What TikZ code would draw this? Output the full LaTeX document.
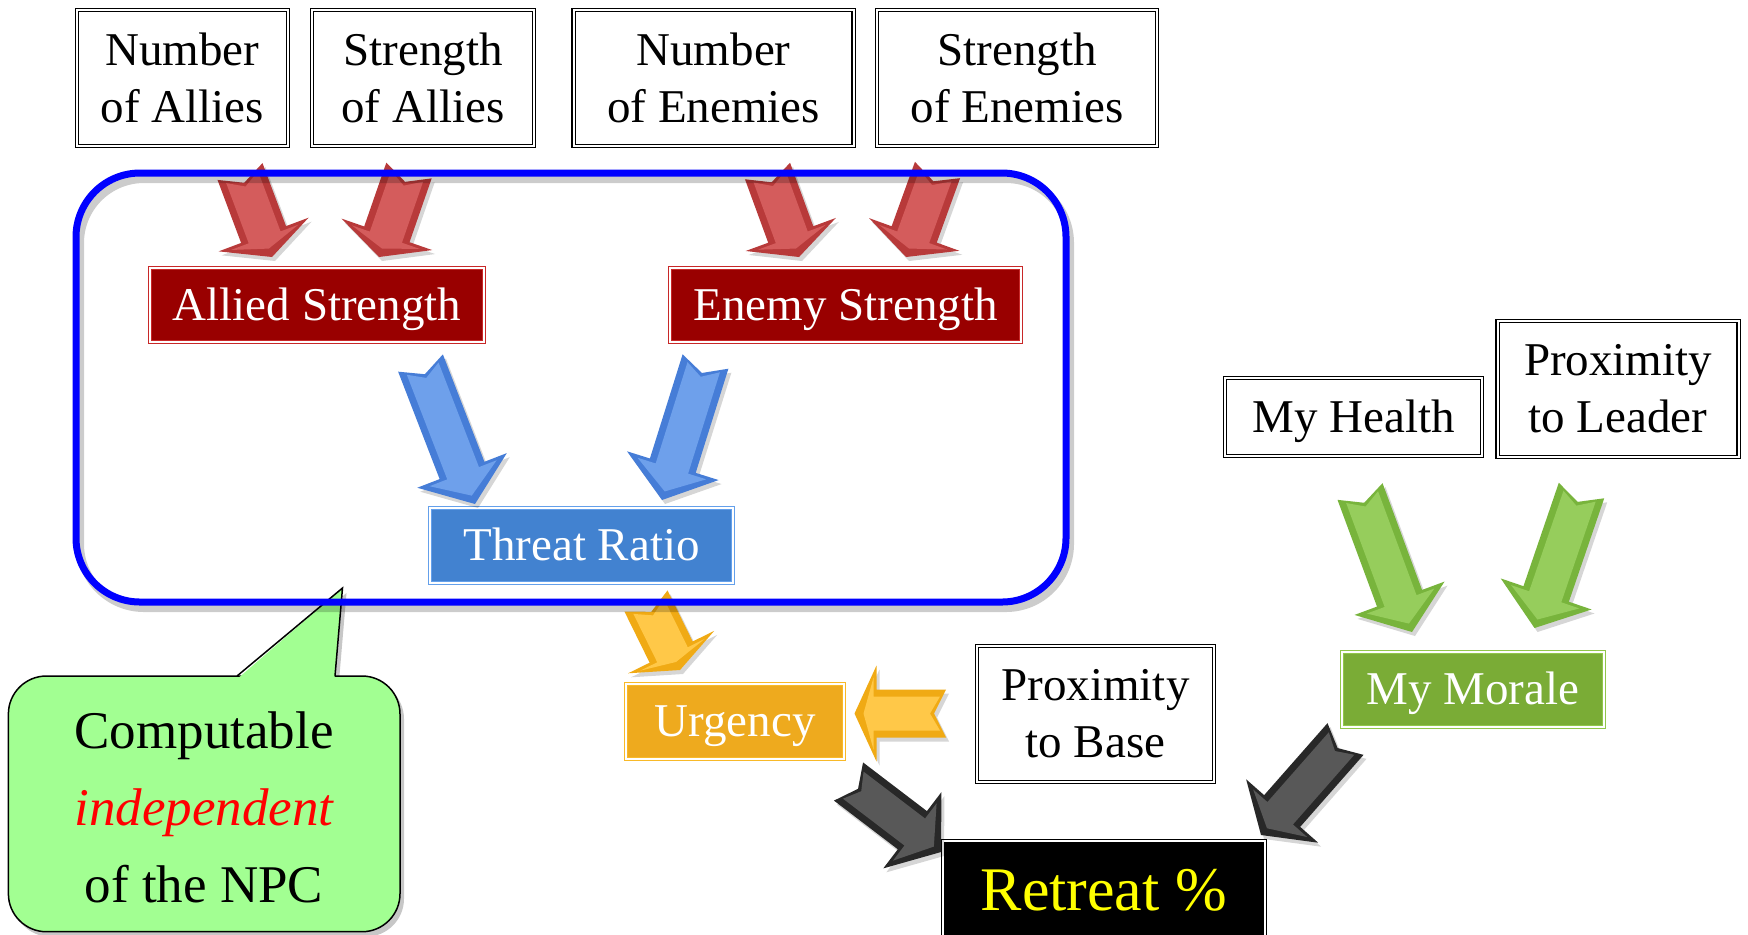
\documentclass[tikz,border=0pt]{standalone}
\usepackage{fontspec}
\setmainfont{Liberation Serif}
\usetikzlibrary{calc}
\definecolor{redbox}{RGB}{153,0,0}
\definecolor{redline}{RGB}{200,40,40}
\definecolor{bluebox}{RGB}{66,130,208}
\definecolor{blueline}{RGB}{100,160,235}
\definecolor{orangebox}{RGB}{238,170,30}
\definecolor{orangeline}{RGB}{248,185,40}
\definecolor{greenbox}{RGB}{122,172,54}
\definecolor{greenline}{RGB}{145,198,75}
\definecolor{calloutgreen}{RGB}{162,255,146}
\definecolor{retyellow}{RGB}{255,255,0}
\definecolor{redA}{RGB}{184,58,58}
\definecolor{redB}{RGB}{212,92,92}
\definecolor{bluA}{RGB}{70,125,215}
\definecolor{bluB}{RGB}{110,160,235}
\definecolor{yelA}{RGB}{240,170,20}
\definecolor{yelB}{RGB}{255,200,72}
\definecolor{grnA}{RGB}{120,180,60}
\definecolor{grnB}{RGB}{150,205,92}
\definecolor{blkA}{RGB}{40,40,40}
\definecolor{blkB}{RGB}{88,88,88}
% #1 tail, #2 tip, #3 head base, #4 half shaft, #5 half head, #6 notch
\newcommand\arrowpath[6]{($(#1)!#4!90:(#2)$) -- ($(#1)!#6!(#2)$) -- ($(#1)!#4!-90:(#2)$) -- ($(#3)!#4!90:(#1)$) -- ($(#3)!#5!90:(#1)$) -- (#2) -- ($(#3)!#5!-90:(#1)$) -- ($(#3)!#4!-90:(#1)$) -- cycle}
% #1 tail, #2 tip, #3 outer colour, #4 inner colour, #5 head length, #6 id
\newcommand\blockarrow[6]{%
  \coordinate (#6B) at ($(#2)!#5!(#1)$);
  \coordinate (#6T) at ($(#1)!3pt!(#2)$);
  \coordinate (#6P) at ($(#2)!4.5pt!(#1)$);
  \coordinate (#6C) at ($(#6B)!1.5pt!(#2)$);
  \begin{scope}[transform canvas={xshift=1.5pt,yshift=-2pt}]
    \fill[black,opacity=0.16] \arrowpath{#1}{#2}{#6B}{12pt}{24pt}{6pt};
  \end{scope}
  \fill[#3] \arrowpath{#1}{#2}{#6B}{12pt}{24pt}{6pt};
  \fill[#4] \arrowpath{#6T}{#6P}{#6C}{8.5pt}{18pt}{5pt};
}
\begin{document}
\begin{tikzpicture}[x=0.5pt,y=-0.5pt,
  txt/.style={font=\fontsize{23.5}{28.5}\selectfont},
  whitebox/.style={txt, draw=black, line width=0.55pt, double=white, double distance=1pt, fill=white, align=center, inner sep=0pt},
  colbox/.style={txt, line width=0.5pt, double=white, double distance=0.9pt, text=white, inner sep=0pt, text height=15pt, text depth=0pt},
]
\useasboundingbox (0,0) rectangle (1748,934);
\fill[white] (0,0) rectangle (1748,934);

% input boxes
\node[whitebox, minimum width=105.5pt, minimum height=68pt] (na) at (182.5,78) {Number\\of Allies};
\node[whitebox, minimum width=111pt, minimum height=68pt] (sa) at (423,78) {Strength\\of Allies};
\node[whitebox, minimum width=140pt, minimum height=68pt] (ne) at (713.5,78) {Number\\of Enemies};
\node[whitebox, minimum width=140pt, minimum height=68pt] (se) at (1017,78) {Strength\\of Enemies};
\node[whitebox, minimum width=128.5pt, minimum height=39pt, text height=15pt, text depth=0pt] (mh) at (1353.5,417) {My Health};
\node[whitebox, minimum width=120.5pt, minimum height=68pt] (pl) at (1618,389) {Proximity\\to Leader};
\node[whitebox, minimum width=118.5pt, minimum height=68pt] (pb) at (1095.5,714) {Proximity\\to Base};

% computed boxes
\node[colbox, fill=redbox, draw=redline, minimum width=167pt, minimum height=37pt] (as) at (317,305) {Allied Strength};
\node[colbox, fill=redbox, draw=redline, minimum width=175.5pt, minimum height=37pt] (es) at (845.5,305) {Enemy Strength};
\node[colbox, fill=bluebox, draw=blueline, minimum width=151.5pt, minimum height=37.5pt] (tr) at (581.5,545.5) {Threat Ratio};
\node[colbox, fill=orangebox, draw=orangeline, minimum width=109pt, minimum height=37.5pt] (ur) at (735,721.5) {Urgency};
\node[colbox, fill=greenbox, draw=greenline, minimum width=131pt, minimum height=37.5pt] (mm) at (1473,689.5) {My Morale};
\node[colbox, fill=black, draw=black, text=retyellow, font=\fontsize{31}{36}\selectfont, text height=10pt, text depth=10pt, minimum width=161pt, minimum height=69.3pt] (rt) at (1103.75,910) {Retreat \%};

% arrow end points
\coordinate (r1t) at (240,171.5);   \coordinate (r1p) at (272,257);
\coordinate (r2t) at (409,170.5);   \coordinate (r2p) at (379,257);
\coordinate (r3t) at (767.5,171);   \coordinate (r3p) at (799,257);
\coordinate (r4t) at (937.5,170);   \coordinate (r4p) at (906,257);
\coordinate (b1t) at (420.5,363);   \coordinate (b1p) at (475,504);
\coordinate (b2t) at (705.5,361.5); \coordinate (b2p) at (662,500);
\coordinate (y1t) at (646,601);     \coordinate (y1p) at (680,670);
\coordinate (y2t) at (946,713.5);   \coordinate (y2p) at (854.5,713.5);
\coordinate (g1t) at (1360,491.5);  \coordinate (g1p) at (1412,632);
\coordinate (g2t) at (1581.5,490.5);\coordinate (g2p) at (1534.5,628);
\coordinate (k1t) at (848.5,781.5); \coordinate (k1p) at (941,852);
\coordinate (k2t) at (1345.5,739);  \coordinate (k2p) at (1261,835);

\blockarrow{r1t}{r1p}{redA}{redB}{12pt}{r1}
\blockarrow{r2t}{r2p}{redA}{redB}{12pt}{r2}
\blockarrow{r3t}{r3p}{redA}{redB}{12pt}{r3}
\blockarrow{r4t}{r4p}{redA}{redB}{12pt}{r4}
\blockarrow{b1t}{b1p}{bluA}{bluB}{18pt}{b1}
\blockarrow{b2t}{b2p}{bluA}{bluB}{18pt}{b2}
\blockarrow{y1t}{y1p}{yelA}{yelB}{10pt}{y1}
\blockarrow{y2t}{y2p}{yelA}{yelB}{11pt}{y2}
\blockarrow{g1t}{g1p}{grnA}{grnB}{18pt}{g1}
\blockarrow{g2t}{g2p}{grnA}{grnB}{18pt}{g2}
\blockarrow{k1t}{k1p}{blkA}{blkB}{18pt}{k1}
\blockarrow{k2t}{k2p}{blkA}{blkB}{16pt}{k2}

% callout
\begin{scope}[transform canvas={xshift=2pt,yshift=-2.5pt}]
  \fill[black,opacity=0.22,rounded corners=19pt] (8.4,676) rectangle (400,931.7);
  \fill[black,opacity=0.22] (237,676) -- (342.5,588) -- (335,676) -- cycle;
\end{scope}
\fill[calloutgreen,rounded corners=19pt] (8.4,676) rectangle (400,931.7);
\draw[line width=0.75pt,rounded corners=19pt] (8.4,676) rectangle (400,931.7);
\fill[calloutgreen] (238.5,677.8) -- (342.5,588) -- (334.6,677.8) -- cycle;
\draw[line width=0.75pt] (237,676) -- (342.5,588) -- (335,676);
\node[font=\fontsize{26.5}{38.5}\selectfont, align=center, inner sep=0pt] (note) at (204,807)
  {Computable\\{\color{red}\itshape independent}\\of the NPC};

% frame
\draw[black,opacity=0.2,line width=4pt,rounded corners=32pt,transform canvas={xshift=2pt,yshift=-3pt}] (76,173) rectangle (1066,602);
\draw[blue,line width=3.5pt,rounded corners=32pt] (76,173) rectangle (1066,602);
\end{tikzpicture}
\end{document}
